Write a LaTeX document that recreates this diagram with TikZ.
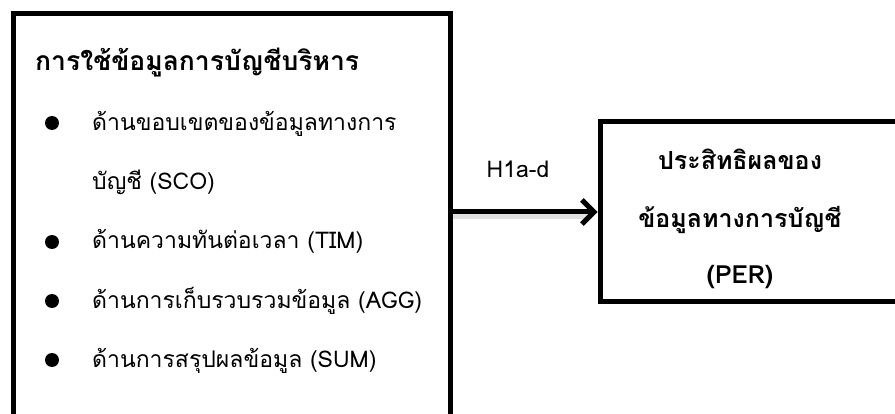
\documentclass[tikz,border=0pt]{standalone}
\usepackage{fontspec}
\newfontfamily\thaifont[Script=Thai]{Loma}
\usetikzlibrary{arrows.meta}
\tikzset{
  frame/.style={draw=black, line width=5pt, rectangle, inner sep=0pt},
  txt/.style={font=\thaifont\fontsize{23}{27}\selectfont, inner sep=0pt, anchor=base west},
  ttl/.style={font=\thaifont\bfseries\fontsize{25}{29}\selectfont, inner sep=0pt},
  dot/.style={circle, fill=black, inner sep=0pt, minimum size=14pt},
  conn/.style={line width=5pt, -{Straight Barb[length=12pt,width=24pt]}},
}
\begin{document}
\begin{tikzpicture}[x=1pt,y=-1pt]
\useasboundingbox (0,0) rectangle (895,414);
\clip (0,0) rectangle (895,414);
\fill[white] (0,0) rectangle (895,414);
% boxes
\node[frame, minimum width=436.5pt, minimum height=426pt] (left) at (231.75,227) {};
\node[frame, minimum width=320pt, minimum height=180pt] (right) at (760,212) {};
% left texts
\node[ttl, anchor=base west, font=\thaifont\bfseries\fontsize{26.5}{30}\selectfont] (title) at (35,71) {การใช้ข้อมูลการบัญชีบริหาร};
\node[dot] (b1) at (52,123) {};
\node[txt] (i1) at (92,130.5) {ด้านขอบเขตของข้อมูลทางการ};
\node[txt] (i1b) at (92,189.8) {บัญชี (SCO)};
\node[dot] (b2) at (52,242) {};
\node[txt] (i2) at (92,249) {ด้านความทันต่อเวลา (TIM)};
\node[dot] (b3) at (52,301) {};
\node[txt] (i3) at (92,308.3) {ด้านการเก็บรวบรวมข้อมูล (AGG)};
\node[dot] (b4) at (52,360) {};
\node[txt] (i4) at (92,367.6) {ด้านการสรุปผลข้อมูล (SUM)};
% right texts
\node[ttl, anchor=base] (r1) at (740,170) {ประสิทธิผลของ};
\node[ttl, anchor=base] (r2) at (740,228) {ข้อมูลทางการบัญชี};
\node[ttl, anchor=base] (r3) at (740,284) {(PER)};
% connector
\coordinate (start) at (left.east |- right.west);
\draw[line width=6pt, black!12] ([yshift=-4pt]start) -- ([xshift=-8pt,yshift=-4pt]right.west);
\draw[conn] (start) -- (right.west);
\node[txt, anchor=base] (h) at (518,178) {H1a-d};
\end{tikzpicture}
\end{document}
